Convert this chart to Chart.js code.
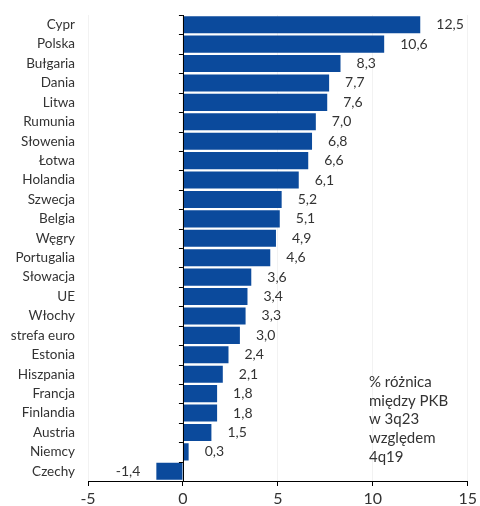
<!DOCTYPE html>
<html>
<head>
<meta charset="utf-8">
<script src="https://cdn.jsdelivr.net/npm/chart.js@4"></script>
<style>
  html, body { margin: 0; padding: 0; background: #fff; }
  #wrap { width: 480px; height: 506px; position: relative; }
</style>
</head>
<body>
<div id="wrap"><canvas id="gdpChart"></canvas></div>
<script>
// countries, top to bottom
const countries = ['Cypr', 'Polska', 'Bułgaria', 'Dania', 'Litwa', 'Rumunia', 'Słowenia', 'Łotwa',
  'Holandia', 'Szwecja', 'Belgia', 'Węgry', 'Portugalia', 'Słowacja', 'UE', 'Włochy',
  'strefa euro', 'Estonia', 'Hiszpania', 'Francja', 'Finlandia', 'Austria', 'Niemcy', 'Czechy'];
// % difference of GDP 3q23 vs 4q19
const gdpChange = [12.5, 10.6, 8.3, 7.7, 7.6, 7.0, 6.8, 6.6, 6.1, 5.2, 5.1, 4.9, 4.6, 3.6, 3.4, 3.3,
  3.0, 2.4, 2.1, 1.8, 1.8, 1.5, 0.3, -1.4];
const xTicks = [-5, 0, 5, 10, 15];
const noteLines = ['% różnica', 'między PKB', 'w 3q23', 'względem', '4q19'];

const FONT = 'Lato, sans-serif';
const TXT = '#333333';

// zero line with category tick marks + value labels + note
const extras = {
  id: 'extras',
  afterDatasetsDraw(chart) {
    const { ctx, scales: { x, y } } = chart;
    const x0 = x.getPixelForValue(0);
    ctx.save();
    ctx.strokeStyle = '#000';
    ctx.lineWidth = 1;
    ctx.beginPath();
    ctx.moveTo(Math.round(x0) + 0.5, y.top);
    ctx.lineTo(Math.round(x0) + 0.5, y.bottom);
    for (let i = 0; i <= countries.length; i++) {
      const py = Math.round(y.getPixelForValue(i - 0.5)) + 0.5;
      ctx.moveTo(x0 - 4, py);
      ctx.lineTo(x0, py);
    }
    ctx.stroke();

    // value labels
    ctx.fillStyle = TXT;
    ctx.font = '14px ' + FONT;
    ctx.textBaseline = 'middle';
    chart.getDatasetMeta(0).data.forEach((bar, i) => {
      const v = gdpChange[i];
      const txt = v.toFixed(1).replace('.', ',');
      if (v >= 0) {
        ctx.textAlign = 'left';
        ctx.fillText(txt, bar.x + 16, bar.y);
      } else {
        ctx.textAlign = 'right';
        ctx.fillText(txt, bar.x - 16, bar.y);
      }
    });

    // note
    ctx.textAlign = 'left';
    ctx.font = '15px ' + FONT;
    noteLines.forEach((line, i) => ctx.fillText(line, 369, 382 + i * 18.8));
    ctx.restore();
  }
};

new Chart(document.getElementById('gdpChart'), {
  type: 'bar',
  data: {
    labels: countries,
    datasets: [{
      data: gdpChange,
      backgroundColor: '#0b4a9c',
      borderWidth: 0,
      categoryPercentage: 0.88,
      barPercentage: 1
    }]
  },
  options: {
    indexAxis: 'y',
    responsive: true,
    maintainAspectRatio: false,
    animation: false,
    layout: { padding: { top: 15, right: 11, left: 0, bottom: 0 } },
    plugins: { legend: { display: false }, tooltip: { enabled: false } },
    scales: {
      x: {
        min: -5,
        max: 15,
        afterBuildTicks: s => { s.ticks = xTicks.map(v => ({ value: v })); },
        afterFit: s => { s.height = 25; },
        grid: { color: '#f2f2f2', tickColor: '#000', tickLength: 5 },
        border: { display: true, color: '#000' },
        ticks: { color: TXT, font: { family: FONT, size: 16 }, padding: 3 }
      },
      y: {
        afterFit: s => { s.width = 88; s.paddingTop = 0; s.paddingBottom = 0; },
        grid: { display: false, drawTicks: false },
        border: { display: false },
        ticks: { color: TXT, font: { family: FONT, size: 13.5 }, padding: 13, autoSkip: false }
      }
    }
  },
  plugins: [extras]
});
</script>
</body>
</html>
